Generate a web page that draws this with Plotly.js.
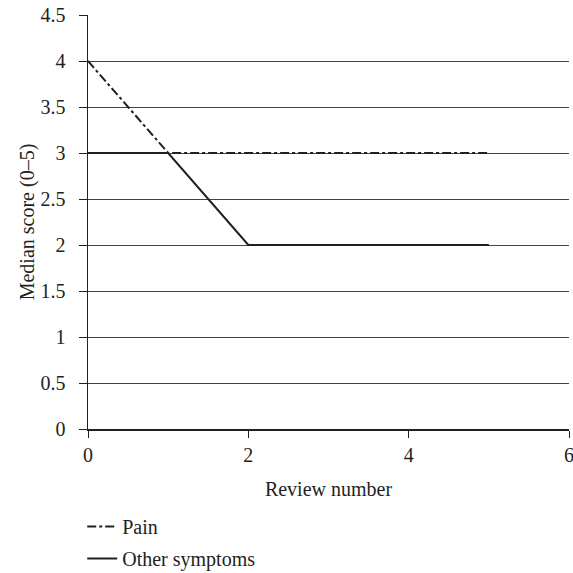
<!DOCTYPE html>
<html><head><meta charset="utf-8">
<script src="https://cdn.plot.ly/plotly-3.0.1.min.js"></script>
<style>html,body{margin:0;padding:0;background:#fff}#chart{width:573px;height:573px}</style>
</head><body><div id="chart"></div>
<script>
const reviewNumbers = [0, 1, 2, 3, 4, 5];
const painScores = [4, 3, 3, 3, 3, 3];
const otherScores = [3, 3, 2, 2, 2, 2];
const seriesNames = ["Pain", "Other symptoms"];
const yTicks = [0, 0.5, 1, 1.5, 2, 2.5, 3, 3.5, 4, 4.5];
const xTicks = [0, 2, 4, 6];

const font = {family: "Liberation Serif, DejaVu Serif, serif", size: 20, color: "#231f20"};
const traces = [
  {x: reviewNumbers, y: painScores, name: seriesNames[0], mode: "lines", legendgroup: "a",
   line: {color: "#231f20", width: 2, dash: "dashdot"}},
  {x: reviewNumbers, y: otherScores, name: seriesNames[1], mode: "lines", legendgroup: "b",
   line: {color: "#231f20", width: 2}}
];
const layout = {
  width: 573, height: 573,
  margin: {l: 88, r: 4, t: 15, b: 144},
  paper_bgcolor: "#fff", plot_bgcolor: "#fff",
  font: font,
  showlegend: true,
  legend: {x: -0.012, xanchor: "left", y: 0.115, yanchor: "top", yref: "container",
           orientation: "v", tracegroupgap: 3, font: font, bgcolor: "rgba(0,0,0,0)"},
  xaxis: {range: [0, 6], tickvals: xTicks, ticktext: xTicks.map(String), automargin: false,
          ticklabeloverflow: "allow",
          showgrid: false, zeroline: false, showline: true, linecolor: "#231f20", linewidth: 1.5,
          ticks: "outside", ticklen: 7, tickcolor: "#231f20",
          title: {text: "Review number", font: font, standoff: 17}, tickfont: font},
  yaxis: {range: [0, 4.5], tickmode: "array", tickvals: yTicks, ticktext: yTicks.map(String),
          ticksuffix: "\u2003",
          automargin: false, ticklabeloverflow: "allow", ticklabelposition: "outside", ticklabelstandoff: 9,
          showgrid: true, gridcolor: "#444", gridwidth: 1, zeroline: false,
          showline: true, linecolor: "#231f20", linewidth: 1.5,
          ticks: "outside", ticklen: 8, tickcolor: "#231f20",
          title: {text: "Median score (0–5)", font: font, standoff: 0}, tickfont: font}
};
Plotly.newPlot("chart", traces, layout, {displayModeBar: false, staticPlot: true});
</script></body></html>
